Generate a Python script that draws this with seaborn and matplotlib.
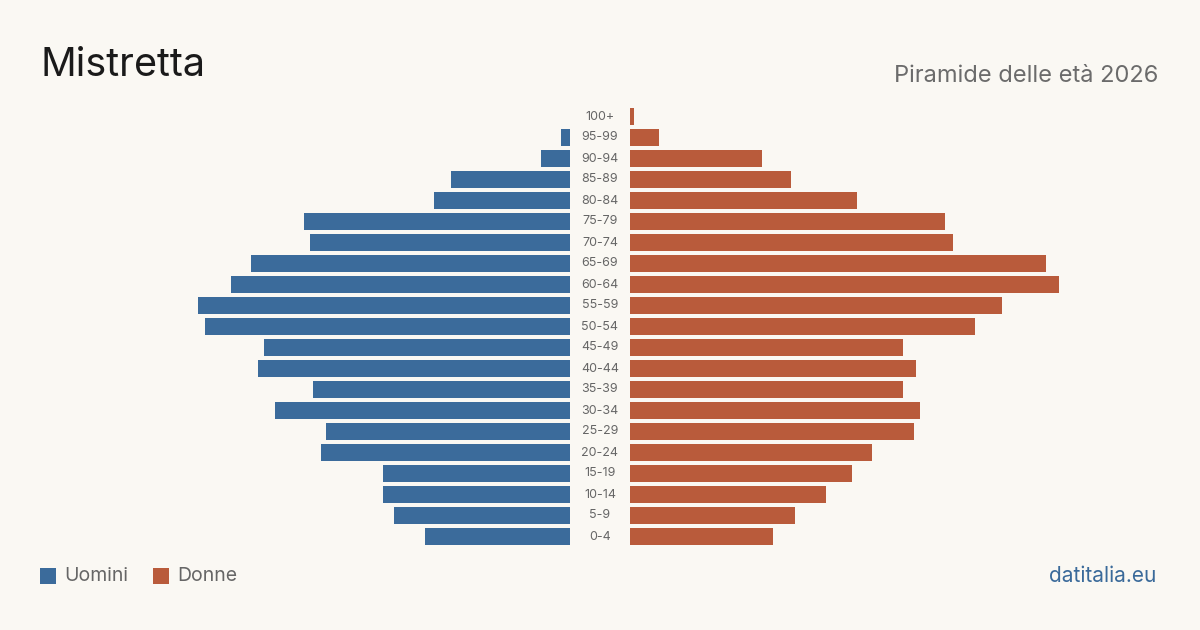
import matplotlib.pyplot as plt
import pandas as pd
import seaborn as sns
from matplotlib.transforms import blended_transform_factory
from matplotlib.patches import Rectangle

sns.set_theme(style="white")
plt.rcParams['font.family'] = ['Inter', 'DejaVu Sans']

bg = "#faf8f3"
blue = "#3b6b9b"
orange = "#b95b3b"

age_groups = ["100+", "95-99", "90-94", "85-89", "80-84", "75-79", "70-74", "65-69",
              "60-64", "55-59", "50-54", "45-49", "40-44", "35-39", "30-34", "25-29",
              "20-24", "15-19", "10-14", "5-9", "0-4"]
uomini = [0, 4, 13, 54, 62, 121, 118, 145, 154, 169, 166, 139, 142, 117, 134, 111,
          113, 85, 85, 80, 66]
donne = [2, 13, 60, 73, 103, 143, 147, 189, 195, 169, 157, 124, 130, 124, 132, 129,
         110, 101, 89, 75, 65]

df = pd.DataFrame({"eta": age_groups, "Uomini": uomini, "Donne": donne})

W, H = 1200, 630
px = 2.2  # pixels per person
fig = plt.figure(figsize=(12, 6.3), dpi=100, facecolor=bg)

bottom = (H - 547) / H
height = 441 / H
l_left, l_right = 150, 570
r_left, r_right = 630, 1090
ax_l = fig.add_axes([l_left / W, bottom, (l_right - l_left) / W, height])
ax_r = fig.add_axes([r_left / W, bottom, (r_right - r_left) / W, height])

sns.barplot(data=df, y="eta", x="Uomini", order=age_groups, color=blue,
            saturation=1, width=0.8, linewidth=0, ax=ax_l)
sns.barplot(data=df, y="eta", x="Donne", order=age_groups, color=orange,
            saturation=1, width=0.8, linewidth=0, ax=ax_r)

ax_l.set_xlim((l_right - l_left) / px, 0)
ax_r.set_xlim(0, (r_right - r_left) / px)

for ax in (ax_l, ax_r):
    ax.set_ylim(len(age_groups) - 0.5, -0.5)
    ax.set_facecolor(bg)
    ax.set_xticks([])
    ax.set_yticks([])
    ax.set_xlabel("")
    ax.set_ylabel("")
    for s in ax.spines.values():
        s.set_visible(False)

tr = blended_transform_factory(fig.transFigure, ax_l.transData)
for i, g in enumerate(age_groups):
    fig.text(600 / W, i, g, transform=tr, ha="center", va="center",
             fontsize=9, color="#666666")

fig.text(41 / W, 1 - 66 / H, "Mistretta", ha="left", va="center",
         fontsize=28.5, color="#1a1a1a")
fig.text(1158 / W, 1 - 76 / H, "Piramide delle età 2026", ha="right", va="center",
         fontsize=17, color="#6b6b6b")

for x0, lab, c in [(40, "Uomini", blue), (153, "Donne", orange)]:
    fig.patches.append(Rectangle((x0 / W, 1 - 584 / H), 16 / W, 16 / H,
                                 transform=fig.transFigure, color=c, lw=0))
    fig.text((x0 + 24) / W, 1 - 576 / H, lab, ha="left", va="center",
             fontsize=14, color="#666666")

fig.text(1156 / W, 1 - 576 / H, "datitalia.eu", ha="right", va="center",
         fontsize=15, color="#3a6a9a")

fig.savefig("out.png", dpi=100, facecolor=bg)
